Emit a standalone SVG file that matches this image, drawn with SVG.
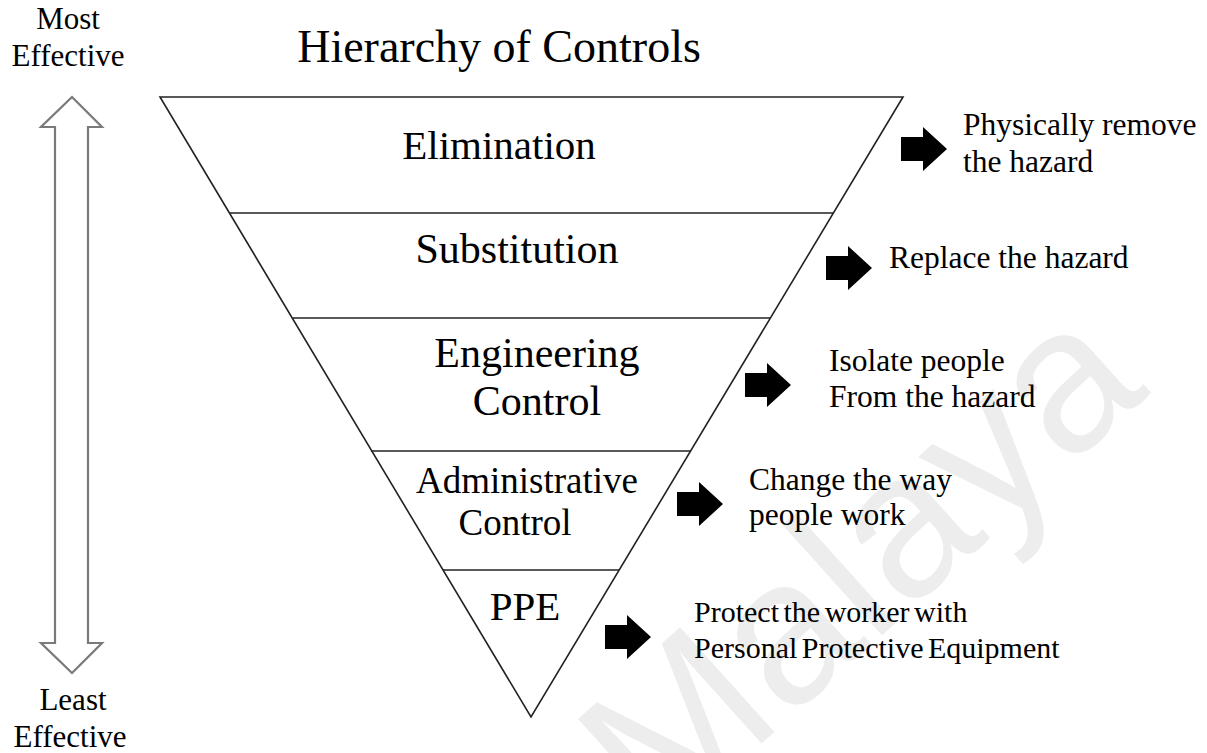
<svg xmlns="http://www.w3.org/2000/svg" width="1207" height="753" viewBox="0 0 1207 753">
  <style>
    text { font-family: "Liberation Serif", "Times New Roman", serif; fill: #000; }
    .title { font-size: 46px; }
    .level { font-size: 41px; text-anchor: middle; }
    .note { font-size: 31.5px; }
    .side { font-size: 31px; text-anchor: middle; }
    .edge { fill: none; stroke: #222; stroke-width: 1.6; }
    text.mark { font-family: "Liberation Sans", Arial, sans-serif; font-size: 205px; fill: #ededed; }
  </style>
  <defs>
    <path id="block-arrow" d="M0,-12 H22 V-22 L46,0 L22,22 V12 H0 Z" fill="#000"/>
  </defs>

  <rect width="1207" height="753" fill="#fff"/>

  <!-- faint background watermark -->
  <text class="mark" transform="translate(660,835) rotate(-42)">Malaya</text>

  <!-- title -->
  <text class="title" x="499" y="62" text-anchor="middle">Hierarchy of Controls</text>

  <!-- effectiveness scale -->
  <g id="scale">
    <text class="side" x="68" y="29">Most</text>
    <text class="side" x="68" y="66">Effective</text>
    <path d="M72,97 L102,127 H88 V643 H102 L72,673 L41,643 H55 V127 H41 Z" fill="#fff" stroke="#7a7a7a" stroke-width="2.2" stroke-linejoin="miter"/>
    <text class="side" x="73" y="710">Least</text>
    <text class="side" x="70" y="747">Effective</text>
  </g>

  <!-- inverted pyramid -->
  <g id="pyramid">
    <path class="edge" d="M160,97 H903 L531,717 Z"/>
  </g>

  <g id="elimination">
    <line class="edge" x1="230" y1="213" x2="833" y2="213"/>
    <text class="level" x="499" y="159">Elimination</text>
  </g>
  <g id="substitution">
    <line class="edge" x1="293" y1="318" x2="770" y2="318"/>
    <text class="level" x="517" y="263" style="font-size:42px">Substitution</text>
  </g>
  <g id="engineering">
    <line class="edge" x1="371" y1="451" x2="691" y2="451"/>
    <text class="level" x="537" y="367" style="font-size:42px">Engineering</text>
    <text class="level" x="537" y="415" style="font-size:42px">Control</text>
  </g>
  <g id="administrative">
    <line class="edge" x1="443" y1="570" x2="619" y2="570"/>
    <text class="level" x="527" y="493" style="font-size:37px">Administrative</text>
    <text class="level" x="515" y="535" style="font-size:37px">Control</text>
  </g>
  <g id="ppe">
    <text class="level" x="525" y="620">PPE</text>
  </g>

  <!-- pointers to the descriptions -->
  <g id="connectors">
    <use href="#block-arrow" x="901" y="149"/>
    <use href="#block-arrow" x="826" y="268"/>
    <use href="#block-arrow" x="745" y="385"/>
    <use href="#block-arrow" x="677" y="504"/>
    <use href="#block-arrow" x="605" y="637"/>
  </g>

  <g id="note-elimination">
    <text class="note" x="963" y="135">Physically remove</text>
    <text class="note" x="963" y="172">the hazard</text>
  </g>
  <g id="note-substitution">
    <text class="note" x="889" y="268">Replace the hazard</text>
  </g>
  <g id="note-engineering">
    <text class="note" x="829" y="371">Isolate people</text>
    <text class="note" x="829" y="407">From the hazard</text>
  </g>
  <g id="note-administrative">
    <text class="note" x="749" y="490">Change the way</text>
    <text class="note" x="749" y="525">people work</text>
  </g>
  <g id="note-ppe">
    <text class="note" x="694" y="622" style="font-size:30px" word-spacing="-3">Protect the worker with</text>
    <text class="note" x="694" y="658" style="font-size:30px" word-spacing="-3">Personal Protective Equipment</text>
  </g>
</svg>
